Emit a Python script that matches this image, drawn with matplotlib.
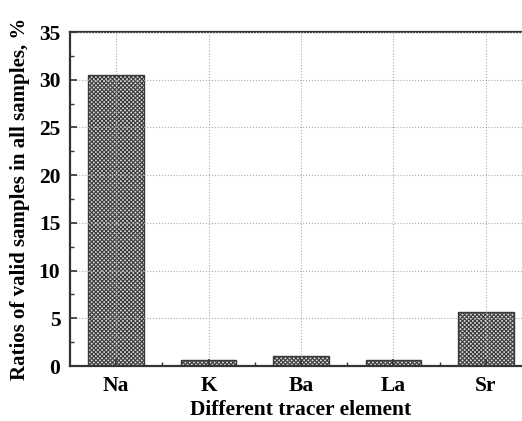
import matplotlib
matplotlib.use("Agg")
import matplotlib.pyplot as plt
from matplotlib.ticker import MultipleLocator, FixedLocator

elements = ["Na", "K", "Ba", "La", "Sr"]
ratios = [30.5, 0.6, 1.05, 0.6, 5.7]

plt.rcParams['font.family'] = ['Liberation Serif', 'DejaVu Serif']
plt.rcParams['font.weight'] = 'bold'
plt.rcParams['hatch.linewidth'] = 0.8
plt.rcParams['hatch.color'] = '#5a5a5a'

fig = plt.figure(figsize=(5.22, 4.21), dpi=100)
ax = fig.add_axes([70/522, 1-366/421, 462/522, 334/421])

x = list(range(len(elements)))
ax.bar(x, ratios, width=0.6, facecolor='#d8d8d8', edgecolor='#3a3a3a',
       hatch='xxxxxxxx', linewidth=1.0, zorder=2)

ax.set_xlim(-0.5, 4.5)
ax.set_ylim(0, 35)
ax.set_xticks(x)
ax.set_xticklabels(elements)
ax.xaxis.set_minor_locator(FixedLocator([0.5, 1.5, 2.5, 3.5]))
ax.yaxis.set_major_locator(MultipleLocator(5))
ax.yaxis.set_minor_locator(MultipleLocator(2.5))

ax.tick_params(axis='both', which='major', direction='in', length=5, width=1.2,
               labelsize=15.5, color='#333333')
ax.tick_params(axis='both', which='minor', direction='in', length=3, width=1.0,
               color='#333333')
ax.tick_params(axis='x', pad=7)
ax.tick_params(axis='y', pad=7)

for s in ax.spines.values():
    s.set_linewidth(1.6)
    s.set_color('#333333')

ax.grid(True, which='major', linestyle=':', linewidth=0.8, color='#aaaaaa', zorder=3)
ax.set_axisbelow(False)

ax.set_xlabel("Different tracer element", fontsize=15.5, fontweight='bold', labelpad=3)
ax.set_ylabel("Ratios of valid samples in all samples, %", fontsize=15,
              fontweight='bold', labelpad=6)

fig.savefig("out.png", dpi=100)
